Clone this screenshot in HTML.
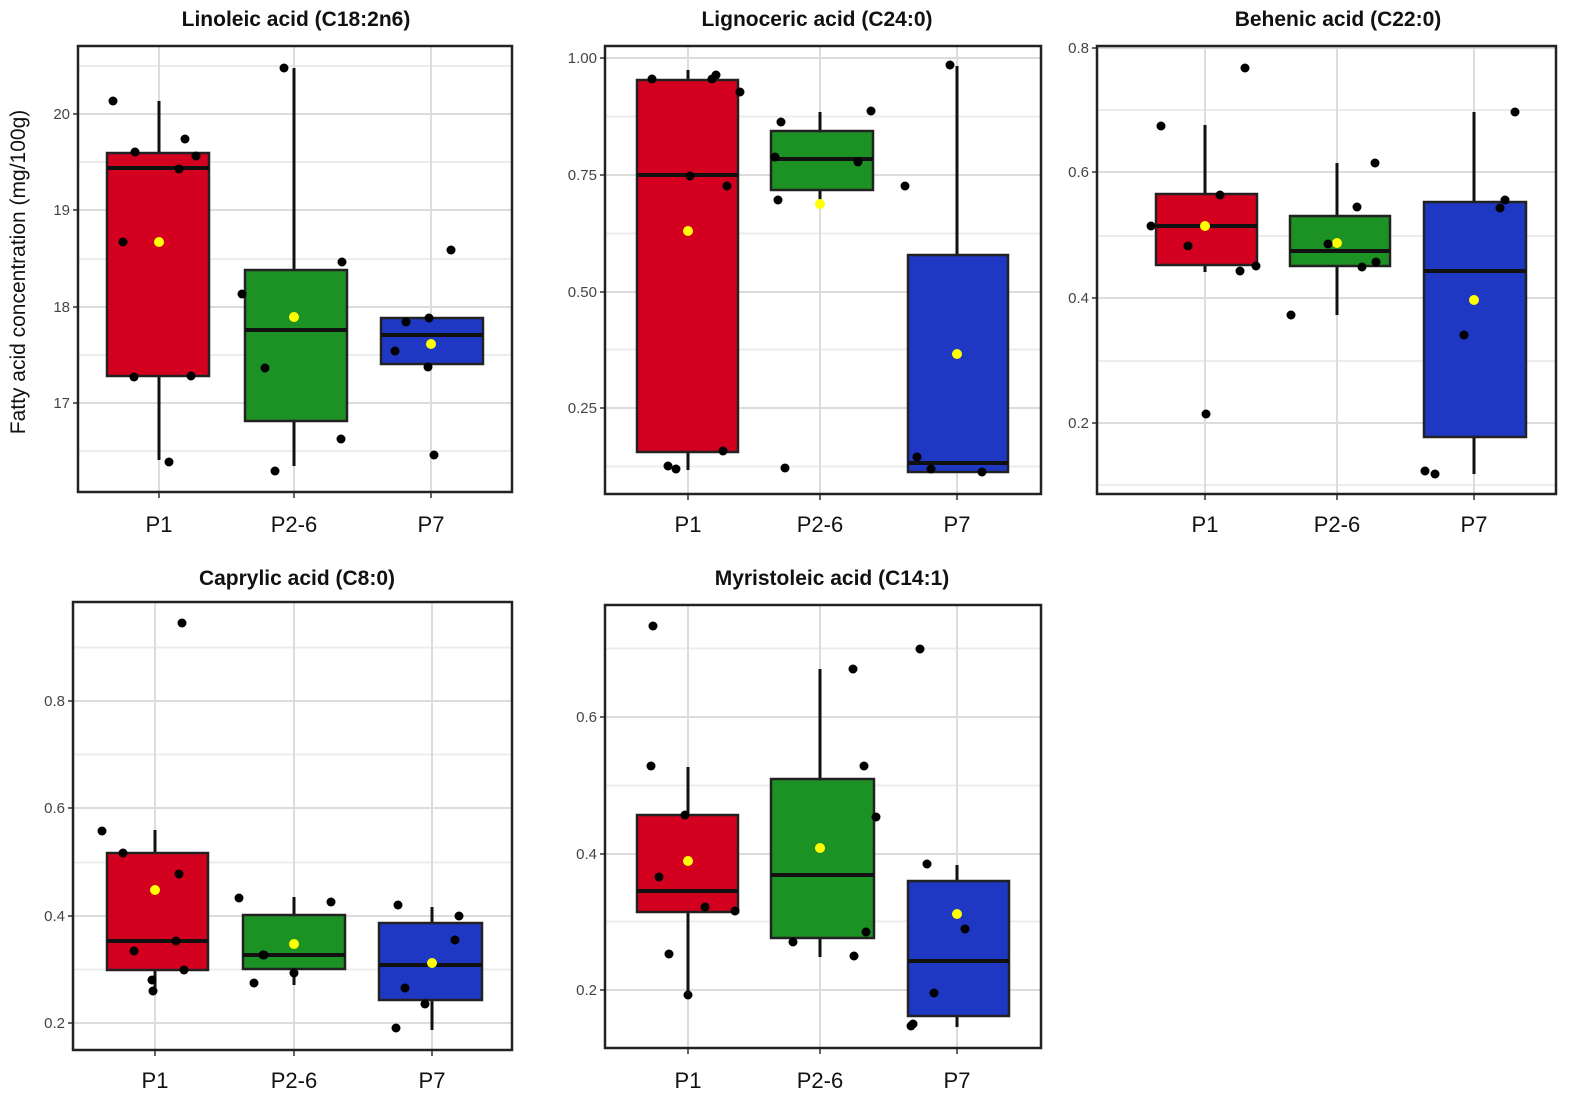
<!DOCTYPE html>
<html><head><meta charset="utf-8"><style>
body{margin:0;background:#fff;}
svg{display:block;font-family:"Liberation Sans",Arial,sans-serif;}
</style></head><body>
<svg id="s" width="1594" height="1120" xmlns="http://www.w3.org/2000/svg"></svg>
<script>
const S=document.getElementById('s');let h='';
const panels=[
{f:[78,46,512,492],title:'Linoleic acid  (C18:2n6)',tx:296,ty:26,ticks:[[114,'20'],[210,'19'],[307,'18'],[403,'17']],cats:[159,294,431],xl:532,
 boxes:[['#d40020',107,209,153,376,168,101,460,242],['#1c9124',245,347,270,421,330,68,466,317],['#1e38c4',381,483,318,364,335,318,364,344]],
 pts:[[113,101],[135,152],[185,139],[196,156],[179,169],[123,242],[134,377],[191,376],[169,462],[284,68],[242,294],[265,368],[342,262],[275,471],[341,439],[451,250],[406,322],[429,318],[395,351],[428,367],[434,455]]},
{f:[605,46,1041,494],title:'Lignoceric acid (C24:0)',tx:817,ty:26,ticks:[[58,'1.00'],[175,'0.75'],[292,'0.50'],[408,'0.25']],cats:[688,820,957],xl:532,
 boxes:[['#d40020',637,738,80,452,175,70,470,231],['#1c9124',771,873,131,190,159,112,205,204],['#1e38c4',908,1008,255,472,463,66,472,354]],
 pts:[[652,79],[668,466],[676,469],[690,176],[716,75],[712,79],[740,92],[727,186],[723,451],[781,122],[775,157],[778,200],[785,468],[858,162],[871,111],[905,186],[950,65],[917,457],[931,469],[982,472]]},
{f:[1097,46,1556,494],title:'Behenic acid (C22:0)',tx:1338,ty:26,ticks:[[48,'0.8'],[172,'0.6'],[298,'0.4'],[423,'0.2']],cats:[1205,1337,1474],xl:532,
 boxes:[['#d40020',1156,1257,194,265,226,125,272,226],['#1c9124',1290,1390,216,266,251,163,315,243],['#1e38c4',1424,1526,202,437,271,112,474,300]],
 pts:[[1161,126],[1245,68],[1220,195],[1188,246],[1151,226],[1240,271],[1256,266],[1206,414],[1375,163],[1357,207],[1328,244],[1362,267],[1376,262],[1291,315],[1515,112],[1505,200],[1500,208],[1464,335],[1425,471],[1435,474]]},
{f:[73,602,512,1050],title:'Caprylic acid (C8:0)',tx:297,ty:585,ticks:[[701,'0.8'],[808,'0.6'],[916,'0.4'],[1023,'0.2']],cats:[155,294,432],xl:1088,
 boxes:[['#d40020',107,208,853,970,941,830,990,890],['#1c9124',243,345,915,969,955,897,985,944],['#1e38c4',379,482,923,1000,965,907,1030,963]],
 pts:[[102,831],[123,853],[182,623],[179,874],[134,951],[176,941],[152,980],[153,991],[184,970],[239,898],[331,902],[264,955],[263,955],[254,983],[294,973],[398,905],[459,916],[455,940],[405,988],[425,1004],[396,1028]]},
{f:[605,605,1041,1048],title:'Myristoleic acid (C14:1)',tx:832,ty:585,ticks:[[717,'0.6'],[854,'0.4'],[990,'0.2']],cats:[688,820,957],xl:1088,
 boxes:[['#d40020',637,738,815,912,891,767,996,861],['#1c9124',771,874,779,938,875,669,957,848],['#1e38c4',908,1009,881,1016,961,865,1027,914]],
 pts:[[653,626],[651,766],[685,815],[659,877],[705,907],[735,911],[669,954],[688,995],[853,669],[876,817],[864,766],[866,932],[793,942],[854,956],[920,649],[927,864],[965,929],[934,993],[911,1026],[913,1024]]}
];
for(const p of panels){
 const [x0,y0,x1,y1]=p.f;
 h+=`<text x="${p.tx}" y="${p.ty}" font-size="21" font-weight="bold" text-anchor="middle" fill="#111">${p.title}</text>`;
 const t=p.ticks.map(a=>a[0]);const d=t[1]-t[0];
 for(let i=0;i<t.length;i++){const mm=t[i]-d/2; if(mm>y0) h+=`<line x1="${x0}" x2="${x1}" y1="${mm}" y2="${mm}" stroke="#ececec" stroke-width="2"/>`;}
 {const mm=t[t.length-1]+d/2; if(mm<y1) h+=`<line x1="${x0}" x2="${x1}" y1="${mm}" y2="${mm}" stroke="#ececec" stroke-width="2"/>`;}
 for(const [y,l] of p.ticks){h+=`<line x1="${x0}" x2="${x1}" y1="${y}" y2="${y}" stroke="#dcdcdc" stroke-width="2"/>`;
  h+=`<line x1="${x0-5}" x2="${x0}" y1="${y}" y2="${y}" stroke="#333" stroke-width="1.5"/>`;
  h+=`<text x="${x0-8}" y="${y+5}" font-size="15" text-anchor="end" fill="#444">${l}</text>`;}
 for(const c of p.cats){h+=`<line x1="${c}" x2="${c}" y1="${y0}" y2="${y1}" stroke="#dcdcdc" stroke-width="2"/>`;
  h+=`<line x1="${c}" x2="${c}" y1="${y1}" y2="${y1+6}" stroke="#333" stroke-width="1.5"/>`;}
 ['P1','P2-6','P7'].forEach((l,i)=>h+=`<text x="${p.cats[i]}" y="${p.xl}" font-size="22" text-anchor="middle" fill="#111">${l}</text>`);
 p.boxes.forEach((b,i)=>{const [col,bx0,bx1,by0,by1,med,w0,w1,mean]=b;const c=p.cats[i];
  h+=`<line x1="${c}" x2="${c}" y1="${w0}" y2="${w1}" stroke="#111" stroke-width="3"/>`;
  h+=`<rect x="${bx0}" y="${by0}" width="${bx1-bx0}" height="${by1-by0}" fill="${col}" stroke="#222" stroke-width="2.5"/>`;
  h+=`<line x1="${bx0}" x2="${bx1}" y1="${med}" y2="${med}" stroke="#111" stroke-width="4"/>`;
  h+=`<circle cx="${c}" cy="${mean}" r="5" fill="#ffff00"/>`;});
 for(const [x,y] of p.pts) h+=`<circle cx="${x}" cy="${y}" r="4.5" fill="#000"/>`;
 h+=`<rect x="${x0}" y="${y0}" width="${x1-x0}" height="${y1-y0}" fill="none" stroke="#222" stroke-width="2.5"/>`;
}
h+=`<text transform="translate(25,272) rotate(-90)" font-size="21" text-anchor="middle" fill="#111">Fatty acid concentration (mg/100g)</text>`;
S.innerHTML=h;
</script>
</body></html>
